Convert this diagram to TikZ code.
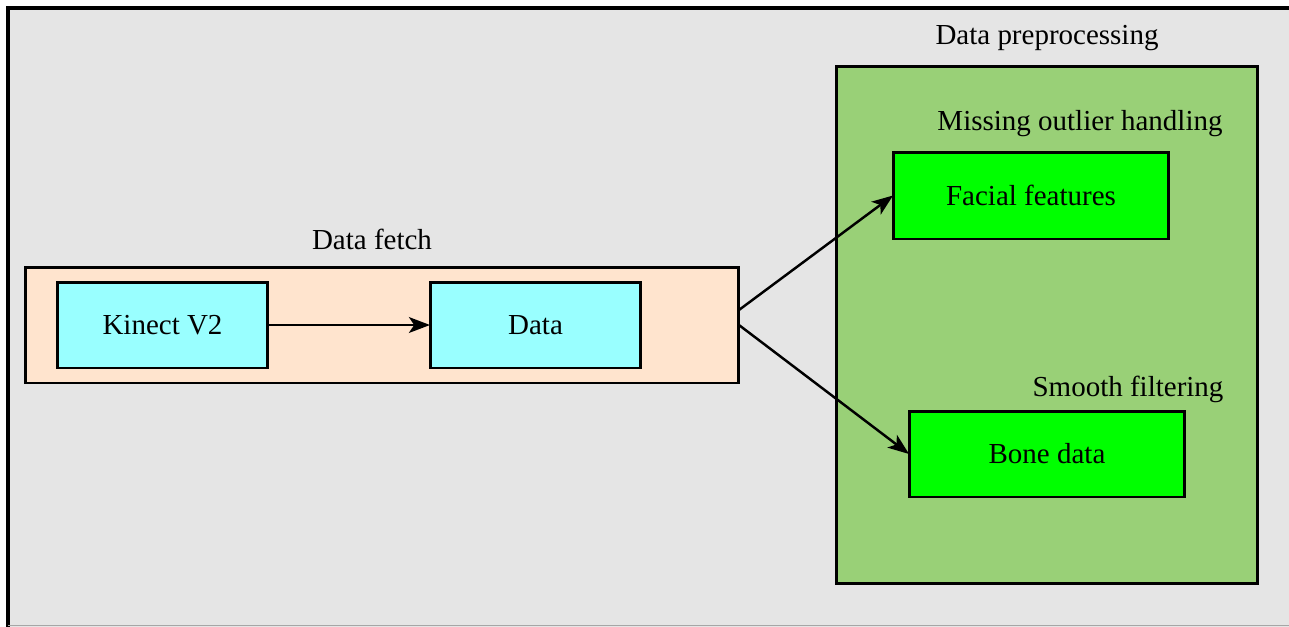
\documentclass[tikz,border=0pt]{standalone}
\usepackage{fontspec}
\setmainfont{Liberation Serif}
\usetikzlibrary{arrows.meta}
\definecolor{bggray}{HTML}{E5E5E5}
\definecolor{peach}{HTML}{FFE4CE}
\definecolor{lcyan}{HTML}{99FFFF}
\definecolor{pgreen}{HTML}{99D077}
\definecolor{bgreen}{HTML}{00FF00}
\tikzset
{
    % Style for the big outer frame
    frame/.style=
    {
        fill=bggray,
        draw=black,
        line width=1.8pt
    },
    % Style for a group box, which holds the step boxes
    group box/.style=
    {
        draw=black,
        line width=1.7pt,
        shape=rectangle,
        inner sep=0pt,
        outer sep=0pt
    },
    % Style for a single step of the pipeline
    step box/.style=
    {
        group box,
        font=\fontsize{16.5}{19}\selectfont
    },
    % Style for the captions above the boxes
    caption/.style=
    {
        font=\fontsize{16.5}{19}\selectfont,
        inner sep=0pt
    },
    % Style for the flow arrows
    flow/.style=
    {
        line width=1.4pt,
        -{Stealth[length=12pt,width=9pt,inset=3pt]}
    }
}

\begin{document}
\begin{tikzpicture}[x=0.02cm,y=-0.02cm]
    % Bounding box, the frame runs out of it on the right and at the bottom
    \path [use as bounding box] (0,0) rectangle (1289,626);
    \clip (0,0) rectangle (1289,626);

    % Draw outer frame
    \draw[frame] (8,8) rectangle (1320,660);
    \draw[gray!70,thin] (8,625) -- (1289,625);

    % Data fetch part
    \node (fetch) [group box,fill=peach,minimum width=14.28cm,minimum height=2.32cm] at (382,325) {};
    \node (fetchcap) [caption] at (372,239) {Data fetch};
    %% Steps
    \node (kinect) [step box,fill=lcyan,minimum width=4.22cm,minimum height=1.72cm] at (162.5,325) {Kinect V2};
    \node (data) [step box,fill=lcyan,minimum width=4.22cm,minimum height=1.72cm] at (535.5,325) {Data};

    % Data preprocessing part
    \node (prep) [group box,fill=pgreen,minimum width=8.44cm,minimum height=10.36cm] at (1047,325) {};
    \node (prepcap) [caption] at (1047,38) {Data preprocessing};
    %% Steps
    \node (facial) [step box,fill=bgreen,minimum width=5.52cm,minimum height=1.74cm] at (1031,195.5) {Facial features};
    \node (facialcap) [caption] at (1080,124) {Missing outlier handling};
    \node (bone) [step box,fill=bgreen,minimum width=5.52cm,minimum height=1.72cm] at (1047,454) {Bone data};
    \node (bonecap) [caption] at (1128,389) {Smooth filtering};

    % Arrows
    \draw[flow] (kinect.east) -- (data.west);
    \draw[flow] ([yshift=0.3cm]fetch.east) -- (facial.west);
    \draw[flow] (fetch.east) -- (bone.west);

\end{tikzpicture}
\end{document}
